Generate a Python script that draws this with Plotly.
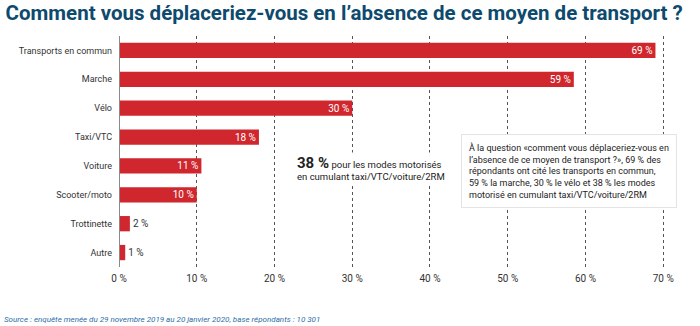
import plotly.graph_objects as go

categories = ["Transports en commun", "Marche", "Vélo", "Taxi/VTC", "Voiture",
              "Scooter/moto", "Trottinette", "Autre"]
values = [69, 58.5, 30, 18, 10.6, 10, 1.4, 0.8]
value_labels = ["69 %", "59 %", "30 %", "18 %", "11 %", "10 %", "2 %", "1 %"]
tick_vals = [0, 10, 20, 30, 40, 50, 60, 70]
tick_text = ["0 %", "10 %", "20 %", "30 %", "40 %", "50 %", "60 %", "70 %"]

FONT = "Roboto, Liberation Sans, sans-serif"
RED = "#cf272d"

positions = ["inside" if v >= 5 else "outside" for v in values]

fig = go.Figure(go.Bar(
    y=categories, x=values, orientation="h",
    marker=dict(color=RED, line=dict(width=0)),
    text=value_labels, textposition=positions,
    insidetextanchor="end", constraintext="none",
    insidetextfont=dict(color="white", size=10, family=FONT),
    outsidetextfont=dict(color="#333333", size=10, family=FONT),
    cliponaxis=False,
))

fig.update_layout(
    width=700, height=326,
    margin=dict(l=119, r=29, t=36, b=59),
    paper_bgcolor="white", plot_bgcolor="white",
    bargap=0.47, showlegend=False,
    font=dict(family=FONT, color="#333333", size=10),
    title=dict(text="<b>Comment vous déplaceriez-vous en l’absence de ce moyen de transport ?</b>",
               x=0.008, xanchor="left", y=0.962, yanchor="middle",
               font=dict(family=FONT, size=20.5, color="#0d4a6e", weight=900)),
    xaxis=dict(range=[0, 71], tickvals=tick_vals, ticktext=tick_text,
               showgrid=True, gridcolor="#555555", griddash="dot", gridwidth=1,
               zeroline=False, showline=False, ticks="",
               tickfont=dict(size=10, color="#333333", family=FONT), ticklabelstandoff=4),
    yaxis=dict(autorange="reversed", showgrid=False, zeroline=False, ticks="",
               tickfont=dict(size=9, color="#333333", family=FONT), ticklabelstandoff=6),
)

# zero axis line
fig.add_vline(x=0, line=dict(color="#8a8a8a", width=2), layer="above")

fig.add_annotation(
    x=22.7, y=0.43, xref="x", yref="paper", xanchor="left", yanchor="middle",
    text="<span style='font-size:15px'><b>38 %</b></span> pour les modes motorisés<br>en cumulant taxi/VTC/voiture/2RM",
    align="left", showarrow=False, bgcolor="white",
    font=dict(family=FONT, size=9.5, color="#222222"),
)

fig.add_annotation(
    x=44.0, y=0.415, xref="x", yref="paper", xanchor="left", yanchor="middle",
    text=("À la question «comment vous déplaceriez-vous en<br>"
          "l’absence de ce moyen de transport ?», 69 % des<br>"
          "répondants ont cité les transports en commun,<br>"
          "59 % la marche, 30 % le vélo et 38 % les modes<br>"
          "motorisé en cumulant taxi/VTC/voiture/2RM"),
    align="left", showarrow=False, bgcolor="white",
    bordercolor="#e4e4e4", borderwidth=1, borderpad=7,
    font=dict(family=FONT, size=9, color="#222222"),
)

fig.add_annotation(
    x=-0.212, y=-0.229, xref="paper", yref="paper", xanchor="left", yanchor="middle",
    text="<i>Source : enquête menée du 29 novembre 2019 au 20 janvier 2020, base répondants : 10 301</i>",
    showarrow=False, align="left",
    font=dict(family=FONT, size=8, color="#2d6ea8"),
)

fig.write_html("out.html")
